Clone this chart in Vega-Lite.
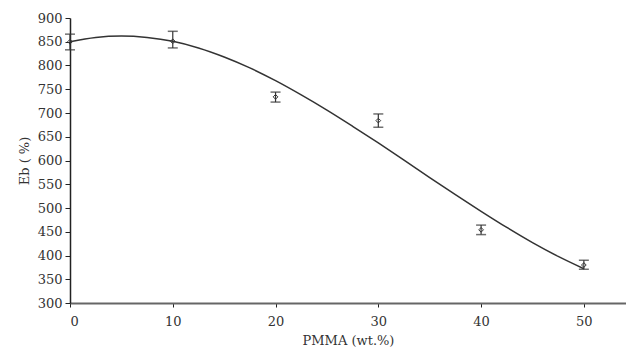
{
  "$schema": "https://vega.github.io/schema/vega-lite/v6.json",
  "width": 556,
  "height": 285,
  "autosize": {"type": "none"},
  "padding": {"left": 70, "top": 18, "right": 0, "bottom": 50},
  "background": "white",
  "config": {
    "view": {"stroke": null},
    "font": "DejaVu Serif",
    "axis": {
      "labelFont": "DejaVu Serif",
      "titleFont": "DejaVu Serif",
      "labelFontSize": 13,
      "titleFontSize": 13,
      "labelColor": "#333",
      "titleColor": "#333",
      "titleFontWeight": "normal",
      "labelOverlap": false,
      "grid": false,
      "tickColor": "#222"
    },
    "axisY": {"tickCount": 13, "labelOverlap": false},
    "axisX": {"tickCount": 6}
  },
  "datasets": {
    "measured": [
      {"pmma": 0, "eb": 850, "lo": 833, "hi": 866},
      {"pmma": 10, "eb": 851, "lo": 837, "hi": 872},
      {"pmma": 20, "eb": 734, "lo": 723, "hi": 744},
      {"pmma": 30, "eb": 684, "lo": 670, "hi": 698},
      {"pmma": 40, "eb": 454, "lo": 444, "hi": 464},
      {"pmma": 50, "eb": 380, "lo": 371, "hi": 390}
    ],
    "trend": [
      {"pmma": 0, "eb": 850},
      {"pmma": 2.5, "eb": 859},
      {"pmma": 5, "eb": 862},
      {"pmma": 7.5, "eb": 859},
      {"pmma": 10, "eb": 851},
      {"pmma": 12.5, "eb": 837},
      {"pmma": 15, "eb": 818},
      {"pmma": 17.5, "eb": 795},
      {"pmma": 20, "eb": 768},
      {"pmma": 22.5, "eb": 738},
      {"pmma": 25, "eb": 706},
      {"pmma": 27.5, "eb": 672},
      {"pmma": 30, "eb": 637},
      {"pmma": 32.5, "eb": 601},
      {"pmma": 35, "eb": 564},
      {"pmma": 37.5, "eb": 528},
      {"pmma": 40, "eb": 493},
      {"pmma": 42.5, "eb": 459},
      {"pmma": 45, "eb": 427},
      {"pmma": 47.5, "eb": 398},
      {"pmma": 50, "eb": 372}
    ]
  },
  "layer": [
    {
      "data": {"name": "trend"},
      "mark": {"type": "line", "color": "#333", "strokeWidth": 1.5, "interpolate": "monotone"},
      "encoding": {
        "x": {
          "field": "pmma",
          "type": "quantitative",
          "title": "PMMA (wt.%)",
          "scale": {"domain": [0, 54.1], "nice": false, "zero": false},
          "axis": {
            "values": [0, 10, 20, 30, 40, 50],
            "domainColor": "#666",
            "domainWidth": 2,
            "tickSize": 4,
            "labelPadding": 8,
            "titlePadding": 6
          }
        },
        "y": {
          "field": "eb",
          "type": "quantitative",
          "title": "Eb ( %)",
          "scale": {"domain": [300, 900], "nice": false, "zero": false},
          "axis": {
            "values": [300, 350, 400, 450, 500, 550, 600, 650, 700, 750, 800, 850, 900],
            "tickCount": 13,
            "labelOverlap": false,
            "domainColor": "#222",
            "domainWidth": 1.5,
            "tickSize": 5,
            "labelPadding": 3,
            "titlePadding": 6
          }
        }
      }
    },
    {
      "mark": {"type": "rule", "color": "#777", "strokeWidth": 2},
      "encoding": {"y": {"datum": 900, "type": "quantitative"}}
    },
    {
      "data": {"name": "measured"},
      "mark": {"type": "rule", "color": "#333", "strokeWidth": 1.2},
      "encoding": {
        "x": {"field": "pmma", "type": "quantitative"},
        "y": {"field": "lo", "type": "quantitative"},
        "y2": {"field": "hi"}
      }
    },
    {
      "data": {"name": "measured"},
      "mark": {"type": "tick", "orient": "horizontal", "color": "#333", "size": 10, "thickness": 1.5},
      "encoding": {
        "x": {"field": "pmma", "type": "quantitative"},
        "y": {"field": "lo", "type": "quantitative"}
      }
    },
    {
      "data": {"name": "measured"},
      "mark": {"type": "tick", "orient": "horizontal", "color": "#333", "size": 10, "thickness": 1.5},
      "encoding": {
        "x": {"field": "pmma", "type": "quantitative"},
        "y": {"field": "hi", "type": "quantitative"}
      }
    },
    {
      "data": {"name": "measured"},
      "mark": {"type": "point", "shape": "diamond", "filled": false, "size": 22, "color": "#333", "strokeWidth": 1, "opacity": 1},
      "encoding": {
        "x": {"field": "pmma", "type": "quantitative"},
        "y": {"field": "eb", "type": "quantitative"}
      }
    }
  ]
}
